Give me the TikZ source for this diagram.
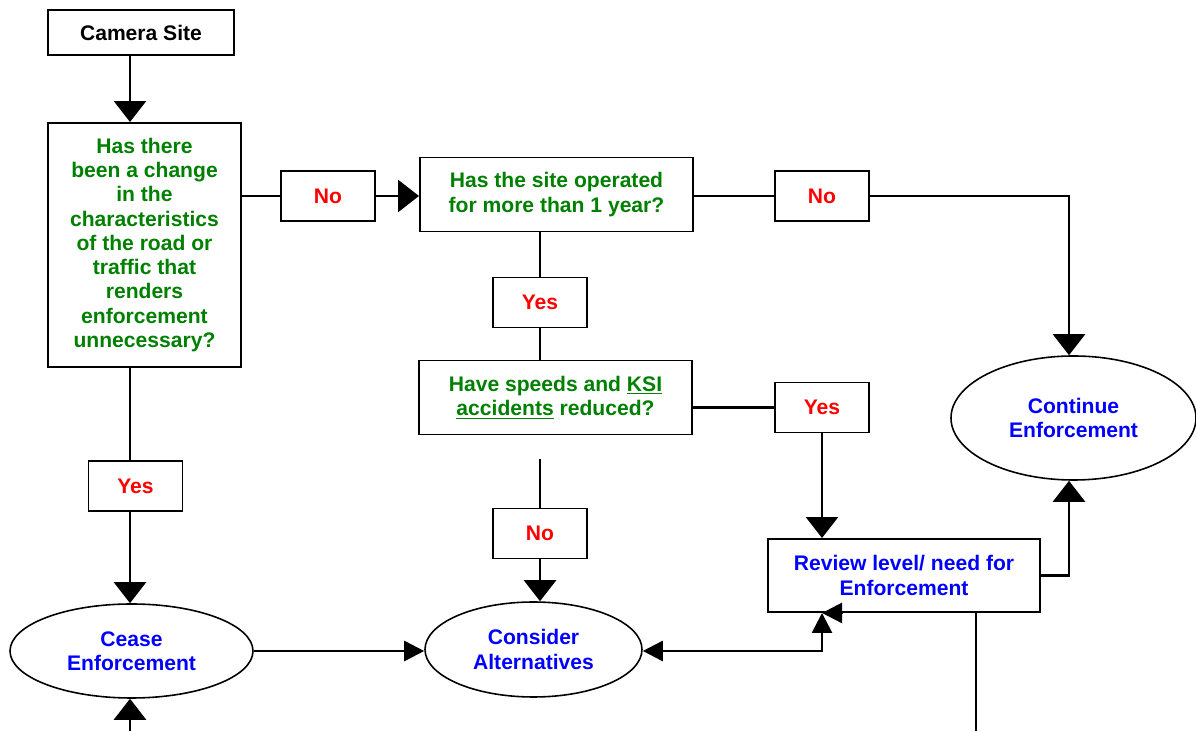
\documentclass[tikz,border=0pt]{standalone}
\usepackage{fontspec}
\setmainfont{Liberation Sans}
\definecolor{SiteGreen}{HTML}{008000}
\definecolor{SiteRed}{HTML}{FF0000}
\definecolor{SiteBlue}{HTML}{0000FF}
\usetikzlibrary{arrows.meta, shapes.geometric, calc}

\tikzset{
   base/.style={draw, line width=1.1pt, inner sep=0pt, align=center,
      font=\fontsize{12}{13.8}\selectfont\bfseries},
   qbox/.style={base, text=SiteGreen, minimum width=5.46cm, minimum height=1.48cm},
   ans/.style={base, text=SiteRed, minimum width=1.88cm, minimum height=1cm},
   outcome/.style={base, ellipse, line width=0.9pt, text=SiteBlue},
   link/.style={line width=1.5pt},
   bigtip/.style={link, -{Triangle[width=0.64cm, length=0.42cm]}},
   smalltip/.style={link, -{Triangle[width=0.4cm, length=0.4cm]}}
}

\begin{document}
\begin{tikzpicture}
   \useasboundingbox (0,0) rectangle (23.92,-14.62);

   % questions
   \node[base, minimum width=3.72cm, minimum height=0.9cm] (site) at (2.82,-0.65) {Camera Site};
   \node[qbox, minimum width=3.86cm, minimum height=4.88cm] (change) at (2.89,-4.9)
      {Has there\\been a change\\in the\\characteristics\\of the road or\\traffic that\\renders\\enforcement\\unnecessary?};
   \node[qbox] (year) at (11.13,-3.89) {Has the site operated\\for more than 1 year?};
   \node[qbox] (speeds) at (11.11,-7.95) {Have speeds and \underline{KSI}\\\underline{accidents} reduced?};

   % answers
   \node[ans] (noA) at (6.56,-3.92) {No};
   \node[ans] (noB) at (16.44,-3.92) {No};
   \node[ans] (yesA) at (10.8,-6.05) {Yes};
   \node[ans] (yesB) at (16.44,-8.15) {Yes};
   \node[ans] (noC) at (10.8,-10.67) {No};
   \node[ans] (yesC) at (2.71,-9.72) {Yes};

   % outcomes
   \node[outcome, minimum width=4.86cm, minimum height=1.88cm] (cease) at (2.63,-13.02) {Cease\\Enforcement};
   \node[outcome, minimum width=4.34cm, minimum height=1.9cm] (consider) at (10.67,-12.99) {Consider\\Alternatives};
   \node[outcome, minimum width=4.9cm, minimum height=2.48cm] (continue) at (21.47,-8.36) {Continue\\Enforcement};
   \node[base, text=SiteBlue, minimum width=5.44cm, minimum height=1.46cm] (review) at (18.08,-11.51)
      {Review level/ need for\\Enforcement};

   \coordinate (spine) at (2.6,0);
   \coordinate (rail) at (21.38,0);
   \coordinate (gapC) at ([yshift=-0.48cm]speeds.south);
   \coordinate (loopR) at (19.52,-14.8);
   \coordinate (loopL) at (2.6,-14.8);
   \coordinate (stray) at ($(review.south -| yesB)+(0.42,0)$);

   \draw[bigtip] (site.south -| spine) -- (change.north -| spine);
   \draw[link] (change.south -| spine) -- (yesC.north -| spine);
   \draw[bigtip] (yesC.south -| spine) -- (cease.north -| spine);
   \draw[link] (noA.west -| change.east) -- (noA.west);
   \draw[bigtip] (noA.east) -- (noA.east -| year.west);
   \draw[link] (noB.west -| year.east) -- (noB.west);
   \draw[bigtip] (noB.east) -| (continue.north -| rail);
   \draw[link] (year.south -| yesA) -- (yesA.north);
   \draw[link] (yesA.south) -- (speeds.north -| yesA);
   \draw[link] (yesB.west -| speeds.east) -- (yesB.west);
   \draw[bigtip] (yesB.south) -- (review.north -| yesB);
   \draw[link] (gapC -| noC) -- (noC.north);
   \draw[bigtip] (noC.south) -- (consider.north -| noC);
   \draw[smalltip] (cease.east) -- (cease.east -| consider.west);
   \draw[link, {Triangle[width=0.4cm, length=0.4cm]}-{Triangle[width=0.4cm, length=0.4cm]}]
      (cease.east -| consider.east) -| (review.south -| yesB);
   \draw[smalltip] (stray) -- (review.south -| yesB);
   \draw[bigtip] (review.east) -| (continue.south -| rail);
   \draw[link] (review.south -| loopR) -- (loopR) -- (loopL);
   \draw[bigtip] (loopL) -- (cease.south -| loopL);
\end{tikzpicture}
\end{document}
